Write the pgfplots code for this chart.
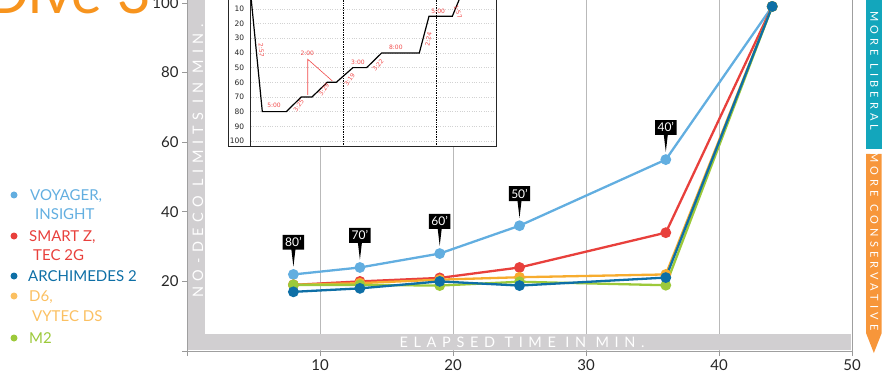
\documentclass[border=0pt]{standalone}
\usepackage{pgfplots}
\pgfplotsset{compat=1.18}
\usepackage{fontspec}
\setmainfont{Lato}
\newfontfamily\spaced[LetterSpace=39]{Lato}
\newfontfamily\tabfont[LetterSpace=38]{Lato}
\newfontfamily\logfont{DejaVu Sans}
\usetikzlibrary{shapes.callouts}

\definecolor{voy}{HTML}{62AEE0}
\definecolor{smt}{HTML}{E8403C}
\definecolor{arc}{HTML}{0E6FA6}
\definecolor{dsix}{HTML}{F7AC2E}
\definecolor{dsixtxt}{HTML}{FBC062}
\definecolor{mtwo}{HTML}{9CC93A}
\definecolor{band}{HTML}{D1CFD1}
\definecolor{title}{HTML}{F7941E}
\definecolor{liberal}{HTML}{13A6BC}
\definecolor{conserv}{HTML}{F7963A}
\definecolor{logred}{HTML}{F24B4B}

\begin{document}
\begin{tikzpicture}[x=1pt,y=1pt]
\path[use as bounding box] (0,0) rectangle (885,375);

% title
\node[anchor=base east, inner sep=0, text=title, font=\fontsize{58}{58}\selectfont] at (151,361) {Dive 3};

% main chart: no-deco limits against elapsed time
\begin{axis}[
  at={(187pt,24pt)}, anchor=south west,
  scale only axis, width=665pt, height=354.96pt,
  xmin=0, xmax=50, ymin=0, ymax=102,
  xtick={0,10,...,50}, xticklabels={,10,20,30,40,50},
  ytick={0,20,...,100}, yticklabels={,20,40,60,80,100},
  tick align=outside, major tick length=5pt, tick pos=left,
  tick style={gray!80, line width=0.9pt},
  axis line style={gray!75, line width=0.9pt},
  xmajorgrids,
  grid style={gray!55, line width=0.9pt},
  ticklabel style={font=\fontsize{15}{15}\selectfont, text=black!85},
  clip=false,
]
\fill[band] (0.075,0.29) rectangle (1.35,102);
\fill[band] (0.075,0.29) rectangle (49.93,4.9);

\addplot[voy, line width=2.3pt, mark=*, mark size=4.2pt]
  coordinates {(8,22) (13,24) (19,28) (25,36) (36,55) (44,99)};
\addplot[smt, line width=2.3pt, mark=*, mark size=4.2pt]
  coordinates {(8,19) (13,20) (19,21) (25,24) (36,34) (44,99)};
\addplot[dsix, line width=2.3pt, mark=*, mark size=4.2pt]
  coordinates {(8,19) (13,19.5) (19,20.5) (25,21.2) (36,22) (44,99)};
\addplot[mtwo, line width=2.3pt, mark=*, mark size=4.2pt]
  coordinates {(8,19) (13,19) (19,18.8) (25,19.9) (36,18.9) (44,99)};
\addplot[arc, line width=2.3pt, mark=*, mark size=4.2pt]
  coordinates {(8,17) (13,18) (19,20) (25,18.8) (36,21.1) (44,99)};

% depth tags on the Voyager points
\addplot[draw=none, mark=none, point meta=explicit symbolic,
  nodes near coords,
  nodes near coords style={rectangle callout, fill=black, text=white,
    font=\fontsize{12}{12}\selectfont, inner xsep=2.5pt, inner ysep=2.8pt,
    callout relative pointer={(0,-17pt)}, callout pointer width=4pt,
    anchor=pointer, yshift=6pt}]
  coordinates {(8,22)[80'] (13,24)[70'] (19,28)[60'] (25,36)[50'] (36,55)[40']};
\end{axis}

% axis titles inside the grey bands
\node[rotate=90, text=white, inner sep=0, font=\spaced\fontsize{14.5}{15}\selectfont] at (198,214) {NO-DECO LIMITS IN MIN.};
\node[text=white, inner sep=0, font=\spaced\fontsize{14.5}{15}\selectfont] at (522,33) {ELAPSED TIME IN MIN.};

% legend
\begin{scope}[every node/.style={anchor=base west, inner sep=0, font=\fontsize{15}{15}\selectfont}]
\fill[voy] (14,180) circle (3.5);
\node[text=voy] at (30,174.5) {VOYAGER,};
\node[text=voy] at (35,155.2) {INSIGHT};
\fill[smt] (14,139) circle (3.5);
\node[text=smt] at (29,133.5) {SMART Z,};
\node[text=smt] at (33,114.5) {TEC 2G};
\fill[arc] (14,99) circle (3.5);
\node[text=arc] at (28,93.5) {ARCHIMEDES 2};
\fill[dsixtxt] (14,79) circle (3.5);
\node[text=dsixtxt] at (29,73.5) {D6,};
\node[text=dsixtxt] at (32,53.8) {VYTEC DS};
\fill[mtwo] (14,37) circle (3.5);
\node[text=mtwo] at (29,31.5) {M2};
\end{scope}

% conservatism scale on the right
\fill[liberal] (866,225.7) rectangle (881.7,385);
\fill[conserv] (866,221) -- (881.7,221) -- (881.7,42) -- (873.85,22) -- (866,42) -- cycle;
\node[rotate=-90, text=white, inner sep=0, font=\tabfont\fontsize{11}{11}\selectfont] at (874.3,304) {MORE LIBERAL};
\node[rotate=-90, text=white, inner sep=0, font=\tabfont\fontsize{11}{11}\selectfont] at (874.3,133.5) {MORE CONSERVATIVE};

% dive profile inset
\fill[white] (228,228.3) rectangle (496.7,385);
\begin{axis}[
  at={(250.7pt,228.3pt)}, anchor=south west,
  scale only axis, width=246pt, height=164.2pt,
  xmin=0, xmax=50, ymin=-103.9, ymax=8,
  axis line style={draw=none},
  xtick=\empty,
  ytick={-100,-90,...,-10}, yticklabels={100,90,80,70,60,50,40,30,20,10},
  major tick length=0pt,
  ymajorgrids, grid style={dotted, gray!35, line width=0.6pt},
  yticklabel style={font=\logfont\fontsize{7.5}{8}\selectfont, text=black!85, xshift=-3pt},
  clip=false,
]
\draw[densely dotted, black, line width=0.7pt] (18.76,-103.9) -- (18.76,8);
\draw[densely dotted, black, line width=0.7pt] (37.66,-103.9) -- (37.66,8);
\draw[black!85, line width=0.8pt] (0,-103.9) -- (0,8);
\addplot[black, line width=1.2pt] coordinates {
  (0,0) (2.36,-80) (7.24,-80) (10.28,-70) (12.46,-70) (15.57,-60) (17.40,-60)
  (20.79,-50) (23.58,-50) (26.63,-40) (34.27,-40) (36.24,-15) (40.98,-15) (42.83,0)};
\draw[logred, line width=0.6pt] (11.59,-68.6) -- (11.59,-44.3) -- (16.59,-59.1);
\begin{scope}[every node/.style={text=logred, inner sep=0, font=\logfont\fontsize{6}{6}\selectfont}]
\node[rotate=-85] at (2.15,-38.0) {2:57};
\node at (4.74,-75.5) {5:00};
\node[rotate=55] at (9.76,-76.1) {3:25};
\node at (11.5,-40.2) {2:00};
\node[rotate=55] at (14.9,-65.2) {3:29};
\node[rotate=55] at (20.1,-58.4) {3:19};
\node at (21.8,-46.4) {3:00};
\node[rotate=50] at (25.9,-48.2) {3:22};
\node at (29.5,-36.1) {8:00};
\node[rotate=80] at (36.1,-30.7) {2:24};
\node at (38.1,-11.9) {5:00};
\node[rotate=-70] at (42.1,-11.9) {1:57};
\end{scope}
\end{axis}
\draw[black!85, line width=0.8pt] (228,228.3) rectangle (496.7,385);
\end{tikzpicture}
\end{document}
